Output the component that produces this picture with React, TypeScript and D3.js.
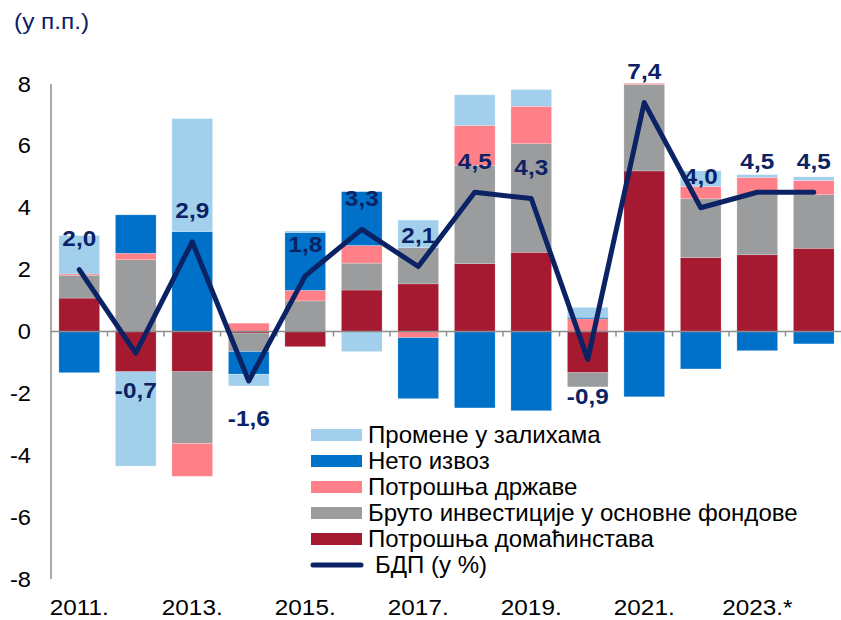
import React from "react";
import * as d3 from "d3";

const years = ["2011","2012","2013","2014","2015","2016","2017","2018","2019","2020","2021","2022","2023","2024"];
const xLabels = ["2011.","","2013.","","2015.","","2017.","","2019.","","2021.","","2023.*",""];
const household = [1.08,-1.30,-1.30,-0.05,-0.49,1.34,1.54,2.19,2.56,-1.33,5.19,2.39,2.48,2.69];
const investment = [0.74,2.32,-2.32,-0.60,0.99,0.87,1.17,3.18,3.51,-0.46,2.80,1.90,1.94,1.73];
const government = [0.04,0.21,-1.06,0.27,0.34,0.57,-0.20,1.29,1.21,0.41,0.03,0.40,0.56,0.46];
const netExports = [-1.33,1.24,3.23,-0.73,1.87,1.74,-1.97,-2.47,-2.56,0.05,-2.11,-1.21,-0.62,-0.40];
const inventories = [1.24,-3.05,3.65,-0.38,0.05,-0.65,0.89,0.99,0.54,0.32,0,0.50,0.09,0.12];
const gdp = [2.0,-0.7,2.9,-1.6,1.8,3.3,2.1,4.5,4.3,-0.9,7.4,4.0,4.5,4.5];
const gdpLabels = ["2,0","-0,7","2,9","-1,6","1,8","3,3","2,1","4,5","4,3","-0,9","7,4","4,0","4,5","4,5"];
const yTicks = [-8,-6,-4,-2,0,2,4,6,8];

const seriesKeys = ["household","investment","government","netExports","inventories"];
const seriesNames: Record<string,string> = {
  inventories: "Промене у залихама",
  netExports: "Нето извоз",
  government: "Потрошња државе",
  investment: "Бруто инвестиције у основне фондове",
  household: "Потрошња домаћинстава",
};
const colors: Record<string,string> = {
  household: "#a51931",
  investment: "#9b9c9e",
  government: "#ff8089",
  netExports: "#0071c9",
  inventories: "#a2d0ec",
};
const legendOrder = ["inventories","netExports","government","investment","household"];
const NAVY = "#0b2265";
const FONT = "'Liberation Sans', Arial, sans-serif";

function T(props: { x: number; y: number; sx?: number; anchor?: string; size: number; weight?: string; fill?: string; children: React.ReactNode }) {
  const { x, y, sx = 1.12, anchor = "start", size, weight = "normal", fill = "#000", children } = props;
  return (
    <text transform={`translate(${x},${y}) scale(${sx},1)`} dy="0.35em" textAnchor={anchor} fontSize={size} fontWeight={weight} fill={fill}>
      {children}
    </text>
  );
}

export default function App() {
  const W = 841, H = 620;
  const x = d3.scaleBand<string>().domain(years).range([51, 842]).paddingInner(0.28).paddingOuter(0.14);
  const y = d3.scaleLinear().domain([-8, 8]).range([579, 84]);
  const rows = years.map((yr, i) => ({
    year: yr,
    household: household[i],
    investment: investment[i],
    government: government[i],
    netExports: netExports[i],
    inventories: inventories[i],
  }));
  const stack = d3.stack<any>().keys(seriesKeys).offset(d3.stackOffsetDiverging);
  const stacked = stack(rows);
  const cx = (yr: string) => (x(yr) as number) + x.bandwidth() / 2;
  const line = d3.line<number>().x((_, i) => cx(years[i])).y(d => y(d));
  const step = x.step();
  const boundaries = d3.range(1, years.length).map(i => 51 + step * i);

  return (
    <svg width={W} height={H} style={{ position: "absolute", left: 0, top: 0, background: "#fff" }} fontFamily={FONT}>
      <T x={14} y={21} size={22} sx={1.11} fill={NAVY}>(у п.п.)</T>
      {stacked.map(s => (
        <g key={s.key} fill={colors[s.key]}>
          {s.map((d, i) => {
            const y0 = y(d[0]), y1 = y(d[1]);
            const h = Math.abs(y0 - y1);
            if (h < 0.01) return null;
            return <rect key={i} x={x(years[i])} y={Math.min(y0, y1)} width={x.bandwidth()} height={h} stroke="#ffffff" strokeOpacity={0.35} strokeWidth={0.6} />;
          })}
        </g>
      ))}
      <line x1={51} x2={51} y1={84} y2={579} stroke="#8c8c8c" strokeWidth={1.5} />
      <line x1={51} x2={841} y1={y(0)} y2={y(0)} stroke="#8c8c8c" strokeWidth={1.5} />
      {boundaries.map((b, i) => (
        <line key={i} x1={b} x2={b} y1={y(0)} y2={y(0) + 5} stroke="#8c8c8c" strokeWidth={1.5} />
      ))}
      {yTicks.map(t => (
        <T key={t} x={31} y={y(t)} anchor="end" size={21.5} sx={1.1}>{t}</T>
      ))}
      {xLabels.map((l, i) => l ? (
        <T key={i} x={cx(years[i])} y={607} anchor="middle" size={21.5} sx={1.13}>{l}</T>
      ) : null)}
      <path d={line(gdp) || ""} fill="none" stroke={NAVY} strokeWidth={5} strokeLinejoin="round" strokeLinecap="round" />
      {gdp.map((v, i) => (
        <T key={i} x={cx(years[i])} y={v >= 0 ? y(v) - 31 : y(v) + 37} anchor="middle" size={21.5} weight="bold" fill={NAVY} sx={1.13}>{gdpLabels[i]}</T>
      ))}
      <g>
        {legendOrder.map((k, i) => (
          <g key={k} transform={`translate(311, ${435 + i * 26})`}>
            <rect x={0} y={-6} width={51} height={12} fill={colors[k]} />
            <T x={57} y={0} size={23} sx={1.045}>{seriesNames[k]}</T>
          </g>
        ))}
        <g transform={`translate(311, ${435 + 5 * 26})`}>
          <line x1={2} x2={50} y1={0} y2={0} stroke={NAVY} strokeWidth={5} strokeLinecap="round" />
          <T x={64} y={0} size={23} sx={1.045}>БДП (у %)</T>
        </g>
      </g>
    </svg>
  );
}
